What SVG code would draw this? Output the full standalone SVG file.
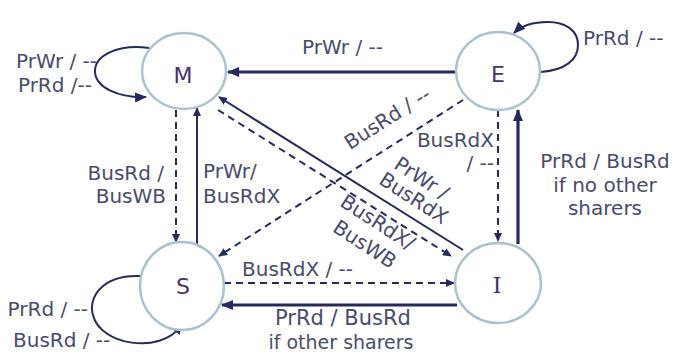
<svg xmlns="http://www.w3.org/2000/svg" width="678" height="352" viewBox="0 0 678 352">
<defs>
<style>
.node{fill:#ffffff;stroke:#a9c3d1;stroke-width:2.5}
.nl{font-family:"DejaVu Sans",Verdana,sans-serif;font-size:22px;fill:#4b2f6e;text-anchor:middle}
.lbl{font-family:"DejaVu Sans",Verdana,sans-serif;font-size:20px;fill:#484c6c}
.e{fill:none;stroke:#262a5e;stroke-width:2}
.thick{stroke-width:3.2}
.dash{stroke-dasharray:7 5}
</style>
<marker id="ah" markerUnits="userSpaceOnUse" markerWidth="12" markerHeight="10" refX="11" refY="5" orient="auto">
<path d="M0,0 L12,5 L0,10 z" fill="#262a5e"/>
</marker>
<marker id="ahs" markerUnits="userSpaceOnUse" markerWidth="9" markerHeight="8" refX="8" refY="4" orient="auto">
<path d="M0,0 L9,4 L0,8 z" fill="#262a5e"/>
</marker>
</defs>
<rect width="678" height="352" fill="#ffffff"/>
<g id="connectors">
<path class="e thick" d="M456 72 L228 72" marker-end="url(#ah)"/>
<path class="e" d="M541 72 C565 70,578 60,578 45 C578 30,565 22,548 22 C532 22,520 27,514 33" marker-end="url(#ah)"/>
<path class="e" d="M149 48 C118 44,96 55,95 70 C94 88,120 98,146 97" marker-end="url(#ah)"/>
<path class="e" d="M141 276 C100 274,88 300,93 315 C100 345,160 355,181 326" marker-end="url(#ahs)"/>
<path class="e dash" d="M176 110 L176 242" marker-end="url(#ahs)"/>
<path class="e" d="M197 244 L197 108" marker-end="url(#ahs)"/>
<path class="e dash" d="M463 100 L219 256" marker-end="url(#ahs)"/>
<path class="e dash" d="M218 110 L451 256" marker-end="url(#ahs)"/>
<path class="e" d="M463 250 L219 97" marker-end="url(#ahs)"/>
<path class="e thick" d="M518 244 L518 110" marker-end="url(#ah)"/>
<path class="e dash" d="M498 110 L498 241" marker-end="url(#ahs)"/>
<path class="e dash" d="M224 283 L454 283" marker-end="url(#ahs)"/>
<path class="e thick" d="M457 305 L222 305" marker-end="url(#ah)"/>
</g>
<g id="labels">
<text class="lbl" x="302" y="54">PrWr / --</text>
<text class="lbl" x="583" y="45">PrRd / --</text>
<text class="lbl" x="97" y="68" text-anchor="end">PrWr / --</text>
<text class="lbl" x="92" y="92" text-anchor="end">PrRd /--</text>
<text class="lbl" x="88" y="316" text-anchor="end">PrRd / --</text>
<text class="lbl" x="13" y="347">BusRd / --</text>
<text class="lbl" x="164" y="180" text-anchor="end">BusRd /</text>
<text class="lbl" x="166" y="203" text-anchor="end">BusWB</text>
<text class="lbl" x="203" y="178">PrWr/</text>
<text class="lbl" x="203" y="203">BusRdX</text>
<text class="lbl" x="391" y="124" text-anchor="middle" transform="rotate(-32.6 391 124)">BusRd / --</text>
<text class="lbl" x="418" y="184" text-anchor="middle" transform="rotate(33 418 184)">PrWr /</text>
<text class="lbl" x="410" y="204" text-anchor="middle" transform="rotate(33 410 204)">BusRdX</text>
<text class="lbl" x="374" y="228" text-anchor="middle" transform="rotate(33 374 228)">BusRdX/</text>
<text class="lbl" x="361" y="250" text-anchor="middle" transform="rotate(33 361 250)">BusWB</text>
<text class="lbl" x="494" y="147" text-anchor="end">BusRdX</text>
<text class="lbl" x="494" y="170" text-anchor="end">/ --</text>
<text class="lbl" x="605" y="168" text-anchor="middle">PrRd / BusRd</text>
<text class="lbl" x="605" y="192" text-anchor="middle">if no other</text>
<text class="lbl" x="605" y="215" text-anchor="middle">sharers</text>
<text class="lbl" x="242" y="276">BusRdX / --</text>
<text class="lbl" x="343" y="325" text-anchor="middle" style="font-size:21px">PrRd / BusRd</text>
<text class="lbl" x="341" y="349" text-anchor="middle" style="font-size:19px">if other sharers</text>
</g>
<g id="node-M"><ellipse class="node" cx="184" cy="71" rx="42" ry="38"/><text class="nl" x="183" y="83">M</text></g>
<g id="node-E"><ellipse class="node" cx="498" cy="71" rx="42" ry="39"/><text class="nl" x="498" y="82">E</text></g>
<g id="node-S"><ellipse class="node" cx="182" cy="286" rx="42" ry="44"/><text class="nl" x="183" y="294">S</text></g>
<g id="node-I"><ellipse class="node" cx="498" cy="283" rx="43" ry="40"/><text class="nl" x="497" y="293" style="font-family:'DejaVu Serif',serif">I</text></g>
</svg>
